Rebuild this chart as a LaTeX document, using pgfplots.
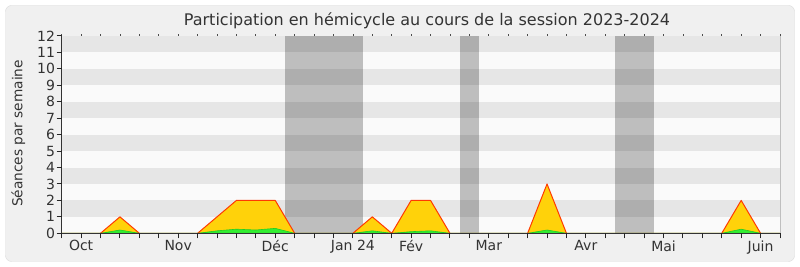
\documentclass[border=0pt]{standalone}
\usepackage{pgfplots}
\pgfplotsset{compat=1.18}
\usepackage{fontspec}
\setmainfont{DejaVu Sans}
\definecolor{panel}{HTML}{F0F0F0}
\definecolor{panelborder}{HTML}{DADADA}
\definecolor{stripe}{HTML}{E6E6E6}
\definecolor{plotbg}{HTML}{FAFAFA}
\definecolor{txt}{HTML}{333333}
\definecolor{gold}{HTML}{FFD20A}
\definecolor{redline}{HTML}{FF3A00}
\definecolor{grfill}{HTML}{33EE33}
\definecolor{grline}{HTML}{22CC22}
\begin{document}
\begin{tikzpicture}
\fill[white] (0pt,0pt) rectangle (800pt,267pt);
\draw[draw=panelborder, fill=panel, rounded corners=6pt] (5.5pt,5.5pt) rectangle (794.5pt,261.5pt);
\node[anchor=base, text=txt, font=\fontsize{16}{19}\selectfont] at (427pt,241pt) {Participation en hémicycle au cours de la session 2023-2024};
\node[rotate=90, text=txt, font=\fontsize{13.7}{16}\selectfont] at (18.3pt,133.5pt) {Séances par semaine};
\begin{axis}[
  at={(61.7pt,33.7pt)}, anchor=south west,
  scale only axis, width=718.3pt, height=197.3pt,
  xmin=0, xmax=37, ymin=0, ymax=12,
  axis line style={draw=none},
  axis background/.style={fill=plotbg},
  xtick={0,...,37},
  xticklabels={,Oct,,,,,Nov,,,,,Déc,,,,Jan 24,,,Fév,,,,Mar,,,,,Avr,,,,Mai,,,,,Juin,},
  ytick={0,...,12},
  xtick pos=left, ytick pos=left,
  tick align=outside, major tick length=5pt,
  major tick style={draw=black!85, line width=1pt},
  ticklabel style={text=txt, font=\fontsize{14}{16}\selectfont},
  /pgf/number format/assume math mode=true,
  xticklabel style={inner sep=1pt, yshift=-1pt},
  yticklabel style={inner sep=1pt, xshift=-0.5pt},
  clip=false,
]
\fill[stripe] (axis cs:0,1) rectangle (axis cs:37,2);
\fill[stripe] (axis cs:0,3) rectangle (axis cs:37,4);
\fill[stripe] (axis cs:0,5) rectangle (axis cs:37,6);
\fill[stripe] (axis cs:0,7) rectangle (axis cs:37,8);
\fill[stripe] (axis cs:0,9) rectangle (axis cs:37,10);
\fill[stripe] (axis cs:0,11) rectangle (axis cs:37,12);
\fill[black, opacity=0.24] (axis cs:11.5,0) rectangle (axis cs:15.5,12);
\fill[black, opacity=0.24] (axis cs:20.5,0) rectangle (axis cs:21.5,12);
\fill[black, opacity=0.24] (axis cs:28.5,0) rectangle (axis cs:30.5,12);
\draw[black!25, line width=0.8pt] (axis cs:37,0) -- (axis cs:37,12);
\addplot[draw=redline, fill=gold, line width=1pt, line join=round] table {
x y
0 0
1 0
2 0
3 1
4 0
5 0
6 0
7 0
8 1
9 2
10 2
11 2
12 0
13 0
14 0
15 0
16 1
17 0
18 2
19 2
20 0
21 0
22 0
23 0
24 0
25 3
26 0
27 0
28 0
29 0
30 0
31 0
32 0
33 0
34 0
35 2
36 0
37 0
} \closedcycle;
\addplot[draw=grline, fill=grfill, line width=0.6pt] table {
x y
0 0
1 0
2 0
3 0.2
4 0
5 0
6 0
7 0
8 0.15
9 0.25
10 0.2
11 0.3
12 0
13 0
14 0
15 0
16 0.15
17 0
18 0.1
19 0.15
20 0
21 0
22 0
23 0
24 0
25 0.2
26 0
27 0
28 0
29 0
30 0
31 0
32 0
33 0
34 0
35 0.25
36 0
37 0
} \closedcycle;
\draw[black!80, line width=0.9pt] (axis cs:0,12) -- (axis cs:0,0) -- (axis cs:37,0);
\pgfplotsinvokeforeach{0,...,37}{
  \draw[black!85, line width=1pt] (axis cs:#1,0) -- ++(0pt,-5pt);
  \draw[black!70, line width=0.8pt] (axis cs:#1,12) -- ++(0pt,1.5pt);
}
\pgfplotsinvokeforeach{0,...,12}{
  \draw[black!85, line width=1pt] (axis cs:0,#1) -- ++(-5pt,0pt);
}
\end{axis}
\end{tikzpicture}
\end{document}
